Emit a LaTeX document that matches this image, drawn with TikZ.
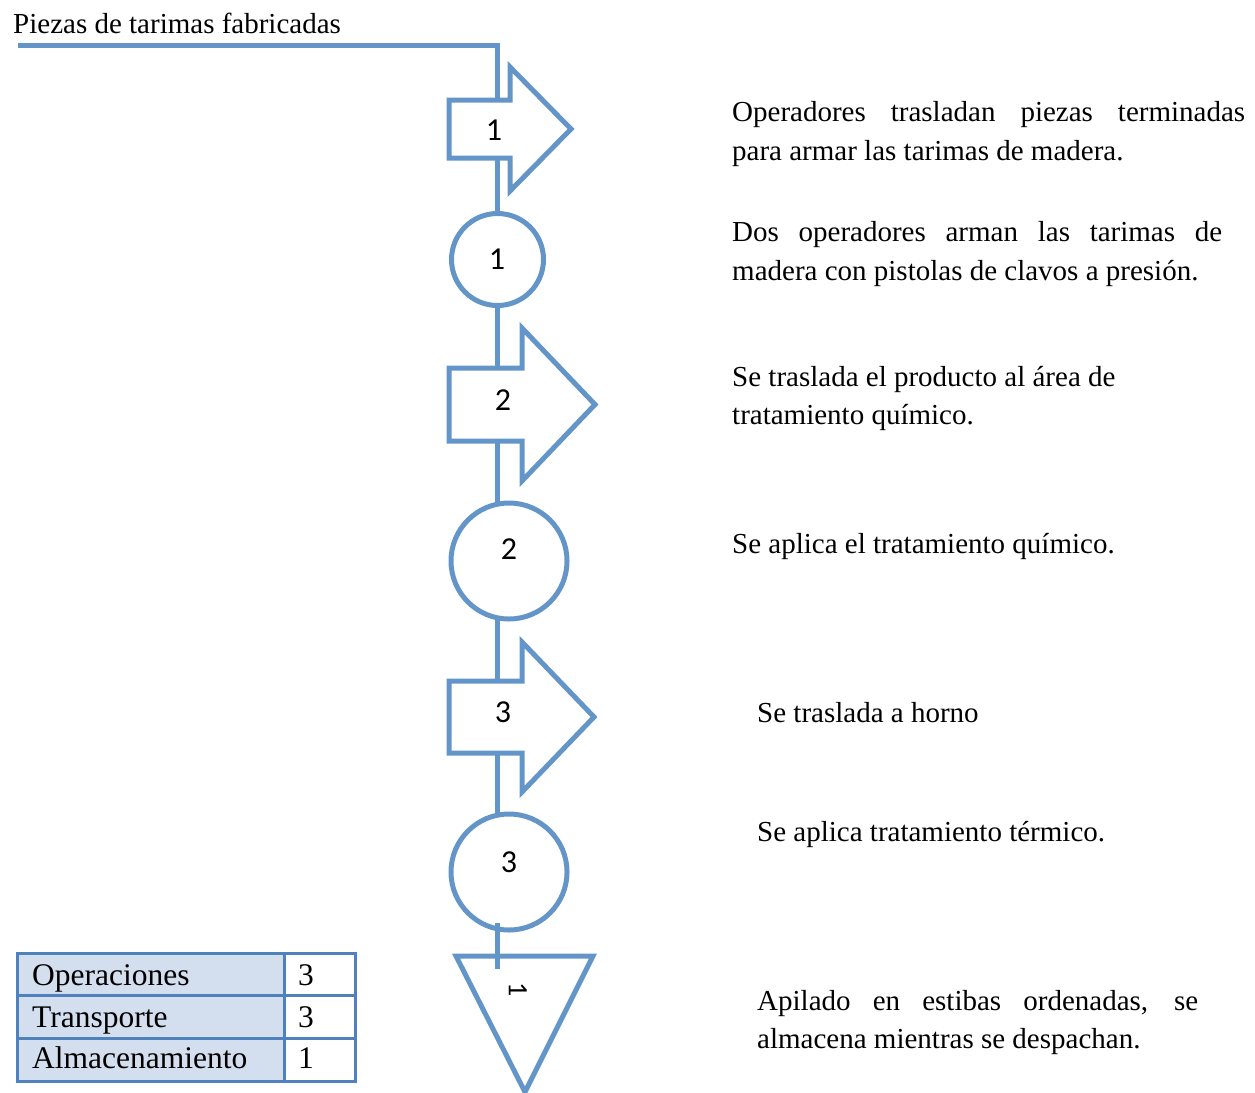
\documentclass[tikz,border=0pt]{standalone}
\usepackage{fontspec}
\setmainfont{Liberation Serif}
\newfontfamily\numfont{Carlito}
\usetikzlibrary{backgrounds}
\definecolor{flowblue}{RGB}{100,149,201}
\definecolor{tabblue}{RGB}{79,129,189}
\definecolor{tabfill}{RGB}{211,223,238}
\begin{document}
\begin{tikzpicture}[x=1pt,y=-1pt,
  shp/.style={draw=flowblue, line width=5pt, fill=white},
  conn/.style={draw=flowblue, line width=5pt},
  num/.style={font=\numfont\fontsize{32}{36}\selectfont, inner sep=0pt},
  desc/.style={font=\fontsize{29}{35}\selectfont, inner sep=0pt, anchor=base west},
  cellt/.style={font=\fontsize{31.5}{36}\selectfont, inner sep=0pt, anchor=base west},
  circ/.style={shp, circle, inner sep=0pt}]
\useasboundingbox (0,0) rectangle (1255,1092);

% named coordinates
\coordinate (start) at (18,45);
\coordinate (corner) at (497,45);
\coordinate (a1top) at (497,100);
\coordinate (a1bot) at (497,158);
\coordinate (a2top) at (497,368);
\coordinate (a2bot) at (497,441);
\coordinate (a3top) at (497,681);
\coordinate (a3bot) at (497,753);
\coordinate (c3out) at (497,923);
\coordinate (triin) at (497,969);

% circles
\node[circ, minimum size=92pt] (o1) at (497.5,259.5) {};
\node[circ, minimum size=116pt] (o2) at (509,561) {};
\node[circ, minimum size=116pt] (o3) at (509,872) {};

% transport arrows
\draw[shp] (449,100) -- (510,100) -- (510,67) -- (571,129) -- (510,191) -- (510,158) -- (449,158) -- cycle;
\draw[shp] (449,368) -- (522,368) -- (522,328) -- (595,404.5) -- (522,481) -- (522,441) -- (449,441) -- cycle;
\draw[shp] (449,681) -- (522,681) -- (522,642) -- (594,717) -- (522,792) -- (522,753) -- (449,753) -- cycle;

% storage triangle
\draw[shp] (456,956) -- (593,956) -- (525,1092) -- cycle;

% connectors
\begin{scope}[on background layer]
\draw[conn] (start) -- (corner) -- (a1top);
\draw[conn] (a1bot) -- (a1bot |- o1.center);
\draw[conn] (a2top |- o1.center) -- (a2top);
\draw[conn] (a2bot) -- (a2bot |- o2.center);
\draw[conn] (a3top |- o2.center) -- (a3top);
\draw[conn] (a3bot) -- (a3bot |- o3.center);
\end{scope}
\draw[conn] (c3out) -- (triin);

% numbers
\node[num] (n1) at (494,130) {1};
\node[num] (n2) at (497,259) {1};
\node[num] (n3) at (503,400) {2};
\node[num] (n4) at (509,549) {2};
\node[num] (n5) at (503,712) {3};
\node[num] (n6) at (509,862) {3};
\node[num, font=\numfont\fontsize{28}{32}\selectfont, rotate=-90] (n7) at (518,990) {1};

% texts
\node[desc] (top) at (13,33) {Piezas de tarimas fabricadas};
\node[desc] (d1a) at (732,121) {\makebox[513pt][s]{Operadores trasladan piezas terminadas}};
\node[desc] (d1b) at (732,160) {para armar las tarimas de madera.};
\node[desc] (d2a) at (732,241) {\makebox[490pt][s]{Dos operadores arman las tarimas de}};
\node[desc] (d2b) at (732,280) {madera con pistolas de clavos a presión.};
\node[desc] (d3a) at (732,386) {Se traslada el producto al área de};
\node[desc] (d3b) at (732,424) {tratamiento químico.};
\node[desc] (d4) at (732,553) {Se aplica el tratamiento químico.};
\node[desc] (d5) at (757,722) {Se traslada a horno};
\node[desc] (d6) at (757,841) {Se aplica tratamiento térmico.};
\node[desc] (d7a) at (757,1010) {\makebox[441pt][s]{Apilado en estibas ordenadas, se}};
\node[desc] (d7b) at (757,1048) {almacena mientras se despachan.};

% summary table
\fill[tabfill] (17,953) rectangle (284,1081);
\draw[tabblue, line width=3pt] (17,953) rectangle (355,1081);
\draw[tabblue, line width=3pt] (17,995) -- (355,995);
\draw[tabblue, line width=3pt] (17,1038) -- (355,1038);
\draw[tabblue, line width=3pt] (284,953) -- (284,1081);
\node[cellt] (t1) at (32,985) {Operaciones};
\node[cellt] (t2) at (32,1027) {Transporte};
\node[cellt] (t3) at (32,1068) {Almacenamiento};
\node[cellt] (v1) at (298,985) {3};
\node[cellt] (v2) at (298,1027) {3};
\node[cellt] (v3) at (298,1068) {1};
\end{tikzpicture}
\end{document}
